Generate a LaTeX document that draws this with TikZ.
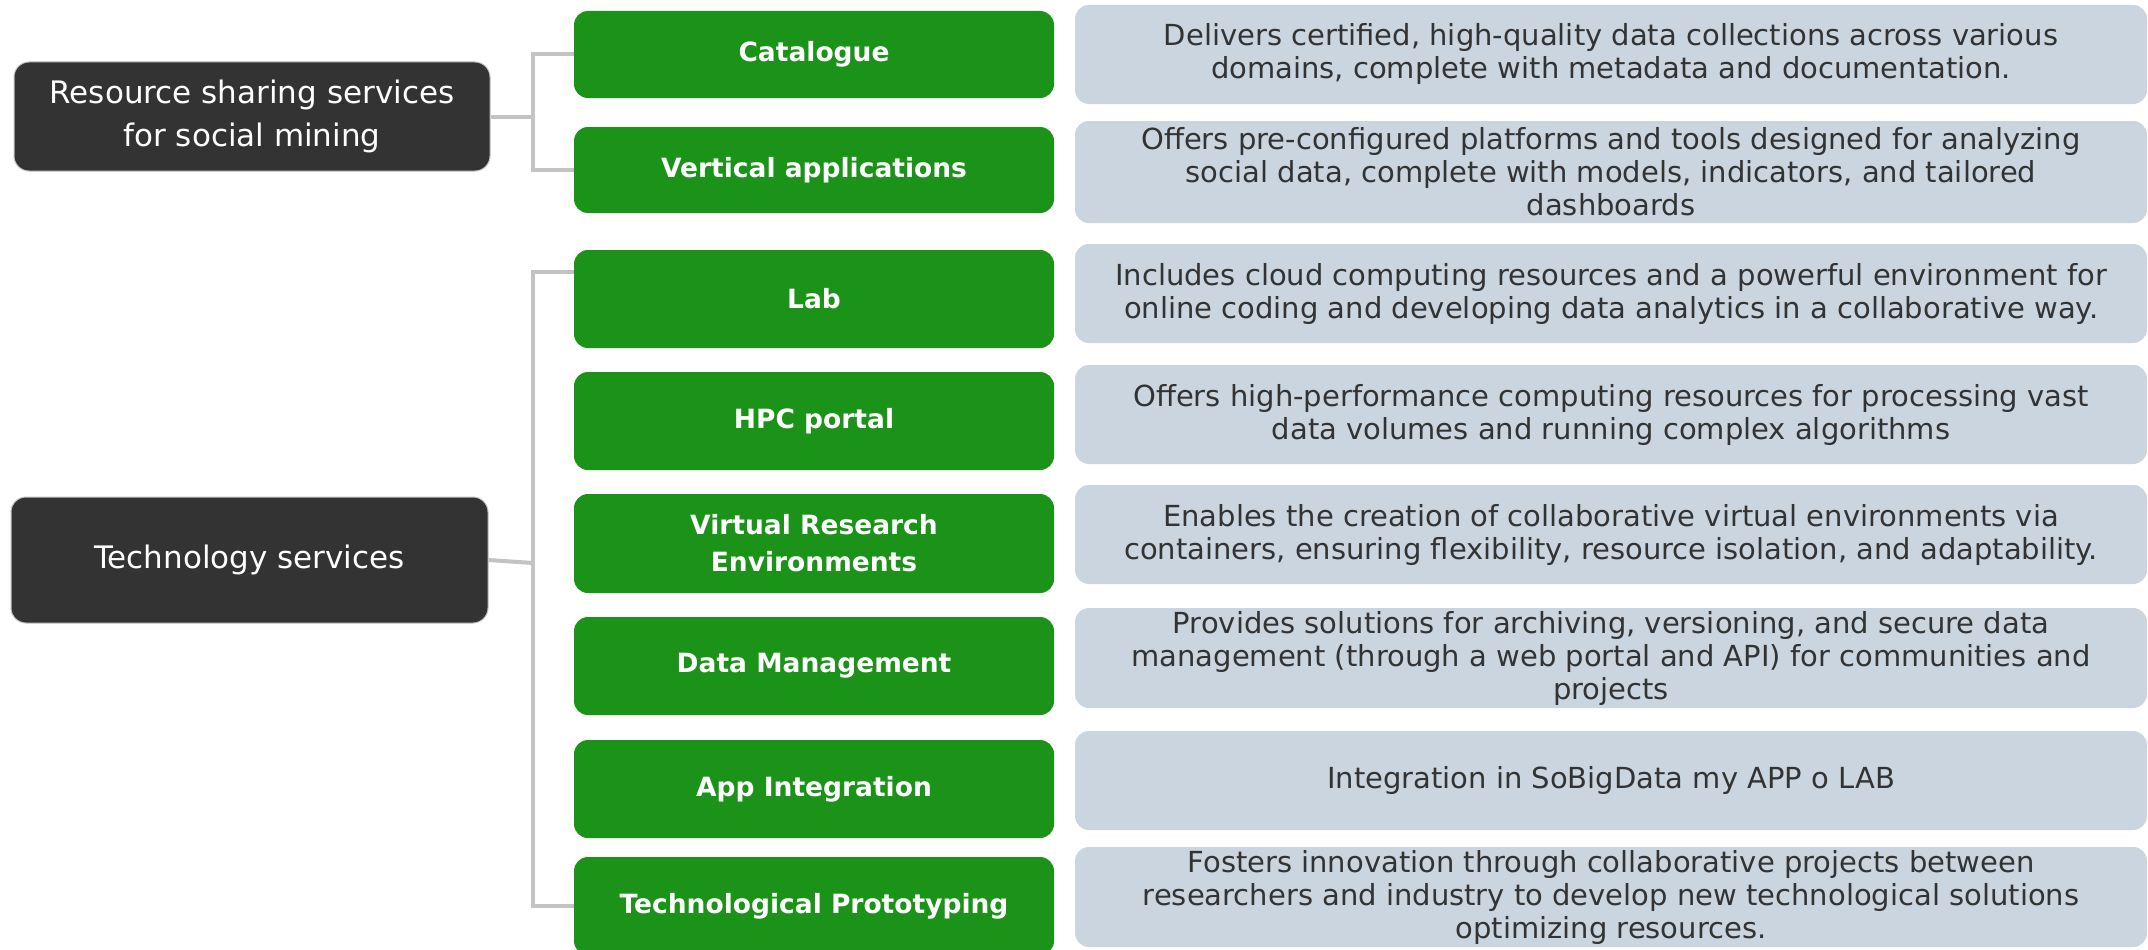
\documentclass[tikz,border=0pt]{standalone}
\usepackage{fontspec}
\setmainfont{DejaVu Sans}
\definecolor{darkbox}{HTML}{333333}
\definecolor{greenbox}{HTML}{1B9318}
\definecolor{graybox}{HTML}{CBD5E0}
\definecolor{graytext}{HTML}{333333}
\definecolor{connc}{HTML}{C3C3C3}
\tikzset{
  catbox/.style={fill=darkbox, draw=connc, line width=1pt, rounded corners=15pt, text=white, align=center,
    font=\fontsize{31}{43}\selectfont, inner sep=0pt},
  svcbox/.style={fill=greenbox, rounded corners=14pt, text=white, align=center,
    font=\bfseries\fontsize{26.5}{37}\selectfont, minimum width=480pt, inner sep=0pt},
  descbox/.style={fill=graybox, rounded corners=14pt, text=graytext, align=center,
    font=\fontsize{29}{33}\selectfont, minimum width=1072pt, inner sep=0pt},
  conn/.style={draw=connc, line width=4pt}
}
\begin{document}
\begin{tikzpicture}[x=1pt,y=-1pt]
\clip (0,0) rectangle (2148,950);
\fill[white] (0,0) rectangle (2148,950);

% category boxes
\node[catbox, minimum width=476pt, minimum height=109pt] (res) at (252,116.5) {Resource sharing services\\for social mining};
\node[catbox, minimum width=477pt, minimum height=126pt] (tech) at (249.5,560) {Technology services};

% service boxes
\node[svcbox, minimum height=87pt] (cat) at (814,54.5) {Catalogue};
\node[svcbox, minimum height=86pt] (va) at (814,170) {Vertical applications};
\node[svcbox, minimum height=98pt] (lab) at (814,299) {Lab};
\node[svcbox, minimum height=98pt] (hpc) at (814,421) {HPC portal};
\node[svcbox, minimum height=99pt] (vre) at (814,543.5) {Virtual Research\\Environments};
\node[svcbox, minimum height=98pt] (dm) at (814,666) {Data Management};
\node[svcbox, minimum height=98pt] (app) at (814,789) {App Integration};
\node[svcbox, minimum height=98pt] (tp) at (814,906) {Technological Prototyping};

% description boxes
\node[descbox, minimum height=99pt] (dcat) at (1611,54.5) {Delivers certified, high-quality data collections across various\\domains, complete with metadata and documentation.};
\node[descbox, minimum height=102pt] (dva) at (1611,172) {Offers pre-configured platforms and tools designed for analyzing\\social data, complete with models, indicators, and tailored\\dashboards};
\node[descbox, minimum height=99pt] (dlab) at (1611,293.5) {Includes cloud computing resources and a powerful environment for\\online coding and developing data analytics in a collaborative way.};
\node[descbox, minimum height=99pt] (dhpc) at (1611,414.5) {Offers high-performance computing resources for processing vast\\data volumes and running complex algorithms};
\node[descbox, minimum height=99pt] (dvre) at (1611,534.5) {Enables the creation of collaborative virtual environments via\\containers, ensuring flexibility, resource isolation, and adaptability.};
\node[descbox, minimum height=100pt] (ddm) at (1611,658) {Provides solutions for archiving, versioning, and secure data\\management (through a web portal and API) for communities and\\projects};
\node[descbox, minimum height=99pt] (dapp) at (1611,780.5) {Integration in SoBigData my APP o LAB};
\node[descbox, minimum height=100pt] (dtp) at (1611,897) {Fosters innovation through collaborative projects between\\researchers and industry to develop new technological solutions\\optimizing resources.};

% connectors
\coordinate (j1) at (533,116.5);
\coordinate (j2) at (533,563);
\draw[conn] (res.east) -- (j1);
\draw[conn] (cat.west) -| (j1) |- (va.west);
\draw[conn] (tech.east) -- (j2);
\draw[conn] ([yshift=27pt]lab.west) -| (j2) |- (tp.west);
\end{tikzpicture}
\end{document}
